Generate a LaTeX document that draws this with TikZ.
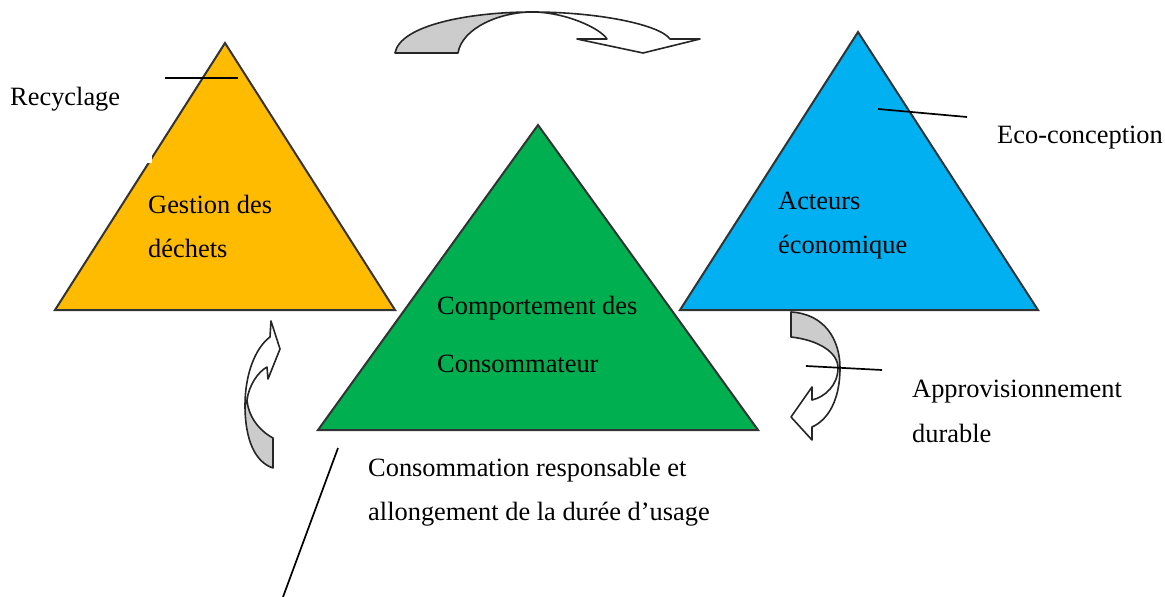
\documentclass[tikz,border=0pt]{standalone}
\usepackage{fontspec}
\setmainfont{Liberation Serif}
\definecolor{gold}{HTML}{FFBB00}
\definecolor{leaf}{HTML}{00B050}
\definecolor{sky}{HTML}{00B0F0}
\definecolor{shade}{HTML}{CCCCCC}
\begin{document}
\begin{tikzpicture}[x=1pt,y=-1pt,
  tri/.style={draw=black!80,line width=2pt,line join=miter},
  lbl/.style={anchor=base west,inner sep=0pt,font=\fontsize{26.4}{30}\selectfont},
  lead/.style={draw=black,line width=1.7pt},
  curvedband/.style={draw=black!85,line width=1.6pt,line join=round}]
\useasboundingbox (0,0) rectangle (1165,597);
\fill[white] (0,0) rectangle (1165,597);

% triangles
\coordinate (yA) at (225,43);  \coordinate (yL) at (55,310);  \coordinate (yR) at (395,310);
\coordinate (bA) at (858,32);  \coordinate (bL) at (680,310); \coordinate (bR) at (1038,310);
\coordinate (gA) at (538,125); \coordinate (gL) at (318,430); \coordinate (gR) at (758,430);
\filldraw[tri,fill=gold] (yA) -- (yL) -- (yR) -- cycle;
\filldraw[tri,fill=sky]  (bA) -- (bL) -- (bR) -- cycle;
\filldraw[tri,fill=leaf] (gA) -- (gL) -- (gR) -- cycle;
% small white mark on the left edge of the gold triangle
\fill[white] (145,152) rectangle (152,163);

% labels inside the triangles
\node[lbl] (gest1) at (148,213) {Gestion des};
\node[lbl] (gest2) at (148,257) {déchets};
\node[lbl] (comp1) at (437,314) {Comportement des};
\node[lbl] (comp2) at (437,372) {Consommateur};
\node[lbl] (act1)  at (778,209) {Acteurs};
\node[lbl] (act2)  at (778,253) {économique};

% outside labels
\node[lbl] (recy) at (10,105) {Recyclage};
\node[lbl] (eco)  at (997,143) {Eco-conception};
\node[lbl] (appr1) at (912,397) {Approvisionnement};
\node[lbl] (appr2) at (912,442) {durable};
\node[lbl] (cons1) at (368,476) {Consommation responsable et};
\node[lbl] (cons2) at (368,520) {allongement de la durée d’usage};

% leader lines
\coordinate (r1) at (165,78);  \coordinate (r2) at (238,78);
\coordinate (e1) at (878,109); \coordinate (e2) at (967,117);
\coordinate (a1) at (806,366); \coordinate (a2) at (882,370);
\coordinate (c1) at (338,448); \coordinate (c2) at (283,597);
\draw[lead] (r1) -- (r2);
\draw[lead] (e1) -- (e2);
\draw[lead] (c1) -- (c2);

% curved arrow on top (left to right)
\filldraw[curvedband,fill=shade] (395,53) .. controls (400,25) and (470,12) .. (532,12)
  .. controls (500,12) and (462,28) .. (458,53) -- cycle;
\filldraw[curvedband,fill=white] (532,12) .. controls (600,12) and (660,25) .. (670,39)
  -- (700,39) -- (643,53) -- (577,39) -- (607,39)
  .. controls (600,28) and (565,12) .. (532,12) -- cycle;

% curved arrow on the right (blue to green)
\filldraw[curvedband,fill=shade] (791,312) .. controls (825,314) and (840,340) .. (840,368)
  -- (838,368) .. controls (838,352) and (818,340) .. (791,337) -- cycle;
\filldraw[curvedband,fill=white] (840,368) .. controls (840,400) and (828,420) .. (812,427)
  -- (812,440) -- (791,417) -- (812,387) -- (812,400)
  .. controls (825,397) and (838,385) .. (838,368) -- cycle;
\draw[lead] (a1) -- (a2);

% curved arrow on the left (green to gold)
\filldraw[curvedband,fill=shade] (273,468) .. controls (255,462) and (245,440) .. (245,405)
  -- (247,400) .. controls (248,415) and (258,430) .. (273,438) -- cycle;
\filldraw[curvedband,fill=white] (245,405) .. controls (245,375) and (255,348) .. (270,337)
  -- (271,321) -- (280,349) -- (268,379) -- (267,367)
  .. controls (258,372) and (249,385) .. (247,400) -- cycle;
\end{tikzpicture}
\end{document}
